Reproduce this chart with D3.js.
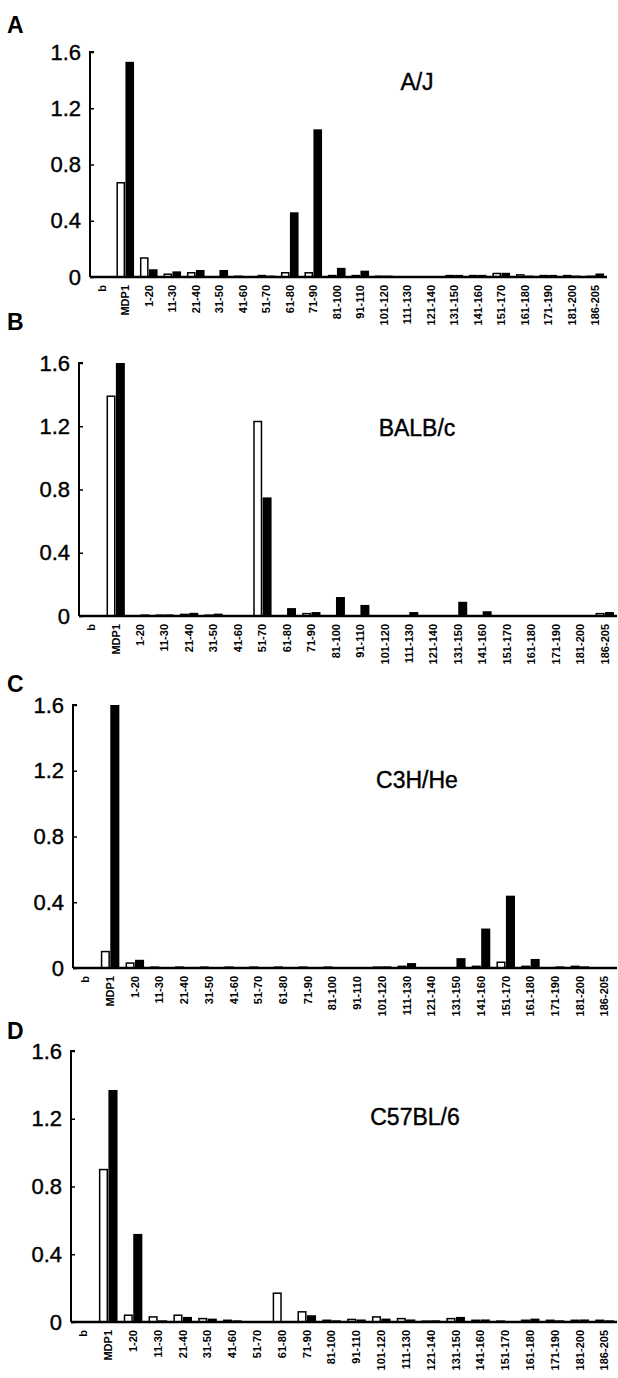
<!DOCTYPE html>
<html>
<head>
<meta charset="utf-8">
<script src="https://cdn.jsdelivr.net/npm/d3@7"></script>
<style>
  body { margin: 0; background: #fff; }
  svg { display: block; }
  text { font-family: "Liberation Sans", Arial, sans-serif; fill: #000; }
</style>
</head>
<body>
<svg id="chart" width="618" height="1378"></svg>
<script>
// peptide fragments on the x axis
var categories = ["b", "MDP1", "1-20", "11-30", "21-40", "31-50", "41-60", "51-70", "61-80", "71-90",
  "81-100", "91-110", "101-120", "111-130", "121-140", "131-150", "141-160", "151-170",
  "161-180", "171-190", "181-200", "186-205"];
var yTicks = [0, 0.4, 0.8, 1.2, 1.6];
var panelLetters = ["A", "B", "C", "D"];
var strains = ["A/J", "BALB/c", "C3H/He", "C57BL/6"];

// open bars / filled bars, one value per category
var ajWhite = [0, 0.67, 0.135, 0.02, 0.03, 0, 0.005, 0.01, 0.03, 0.03, 0.01, 0.01, 0.005, 0, 0, 0.01, 0.01, 0.025, 0.015, 0.01, 0.01, 0.005];
var ajBlack = [0, 1.53, 0.055, 0.04, 0.05, 0.05, 0.005, 0.01, 0.46, 1.05, 0.065, 0.045, 0.01, 0, 0, 0.015, 0.015, 0.03, 0.01, 0.015, 0.01, 0.025];
var balbWhite = [0, 1.39, 0, 0.005, 0.01, 0.005, 0, 1.23, 0, 0.015, 0, 0, 0, 0, 0, 0, 0, 0, 0, 0, 0, 0.015];
var balbBlack = [0, 1.6, 0.01, 0.01, 0.02, 0.015, 0, 0.75, 0.05, 0.025, 0.12, 0.07, 0, 0.025, 0, 0.09, 0.03, 0, 0, 0, 0, 0.025];
var c3hWhite = [0, 0.1, 0.03, 0.005, 0.005, 0.005, 0.005, 0.005, 0.005, 0.005, 0.005, 0, 0.005, 0.01, 0, 0, 0.01, 0.035, 0.01, 0, 0.01, 0];
var c3hBlack = [0, 1.6, 0.05, 0.005, 0.005, 0.005, 0.005, 0.005, 0.005, 0.005, 0.005, 0, 0.01, 0.03, 0, 0.06, 0.24, 0.44, 0.055, 0.01, 0.01, 0];
var b6White = [0, 0.9, 0.04, 0.03, 0.04, 0.02, 0.01, 0, 0.17, 0.06, 0.01, 0.015, 0.03, 0.02, 0.005, 0.02, 0.01, 0.005, 0.01, 0.01, 0.01, 0.01];
var b6Black = [0, 1.37, 0.52, 0.01, 0.03, 0.02, 0.01, 0, 0, 0.04, 0.01, 0.015, 0.02, 0.015, 0.01, 0.03, 0.015, 0.005, 0.02, 0.01, 0.015, 0.01];

var whiteSeries = [ajWhite, balbWhite, c3hWhite, b6White];
var blackSeries = [ajBlack, balbBlack, c3hBlack, b6Black];

// panel frames (pixels)
var panels = [
  {left: 90, right: 607, top: 52,   bottom: 277,  letterY: 33,   labelX: 417, labelY: 90},
  {left: 79, right: 617, top: 363,  bottom: 616,  letterY: 330,  labelX: 417, labelY: 436},
  {left: 73, right: 617, top: 705,  bottom: 968,  letterY: 692,  labelX: 417, labelY: 788},
  {left: 71, right: 617, top: 1051, bottom: 1322, letterY: 1039, labelX: 415, labelY: 1125}
];

var svg = d3.select("#chart");

panels.forEach(function(p, i) {
  var g = svg.append("g");

  var x = d3.scaleBand()
    .domain(categories)
    .range([p.left, p.right])
    .paddingInner(0.22)
    .paddingOuter(0.11);

  var x1 = d3.scaleBand()
    .domain(["white", "black"])
    .range([0, x.bandwidth()])
    .padding(0.04);

  var y = d3.scaleLinear()
    .domain([0, 1.6])
    .range([p.bottom, p.top]);

  g.append("text")
    .attr("x", 7)
    .attr("y", p.letterY)
    .style("font-size", "23px")
    .style("font-weight", "bold")
    .text(panelLetters[i]);

  g.append("text")
    .attr("x", p.labelX)
    .attr("y", p.labelY)
    .attr("text-anchor", "middle")
    .style("font-size", "23px")
    .style("stroke", "#000")
    .style("stroke-width", 0.4)
    .text(strains[i]);

  // bars
  var rows = categories.map(function(c, j) {
    return {cat: c, white: whiteSeries[i][j], black: blackSeries[i][j]};
  });

  g.selectAll(".w")
    .data(rows)
    .enter().append("rect")
    .attr("x", function(d) { return x(d.cat) + x1("white") + 0.75; })
    .attr("width", x1.bandwidth() - 1.5)
    .attr("y", function(d) { return y(d.white); })
    .attr("height", function(d) { return p.bottom - y(d.white); })
    .style("fill", "#fff")
    .style("stroke", "#000")
    .style("stroke-width", 1.5);

  g.selectAll(".k")
    .data(rows)
    .enter().append("rect")
    .attr("x", function(d) { return x(d.cat) + x1("black"); })
    .attr("width", x1.bandwidth())
    .attr("y", function(d) { return y(d.black); })
    .attr("height", function(d) { return p.bottom - y(d.black); })
    .style("fill", "#000");

  // y axis
  var yAxis = g.append("g")
    .attr("transform", "translate(" + p.left + ",0)")
    .call(d3.axisLeft(y).tickValues(yTicks).tickSize(-4).tickPadding(9)
      .tickFormat(function(d) { return d === 0 ? "0" : d3.format(".1f")(d); }));
  yAxis.select(".domain").attr("d", "M4," + p.top + "H0V" + p.bottom).style("stroke-width", 2);
  yAxis.selectAll(".tick line").style("stroke-width", 1.5);
  yAxis.selectAll(".tick text")
    .style("font-size", "22px")
    .style("stroke", "#000")
    .style("stroke-width", 0.4)
    .style("font-family", "'Liberation Sans', Arial, sans-serif");

  // x axis
  var xAxis = g.append("g")
    .attr("transform", "translate(0," + p.bottom + ")")
    .call(d3.axisBottom(x).tickSize(0).tickPadding(6));
  xAxis.select(".domain").attr("d", "M" + p.left + ",0H" + p.right).style("stroke-width", 2.5);
  xAxis.selectAll(".tick text")
    .attr("transform", "rotate(-90)")
    .attr("text-anchor", "end")
    .attr("dy", "0.35em")
    .attr("x", -8)
    .attr("y", 0)
    .style("font-size", "11px")
    .style("font-weight", "bold")
    .style("font-family", "'Liberation Sans', Arial, sans-serif");
});
</script>
</body>
</html>
